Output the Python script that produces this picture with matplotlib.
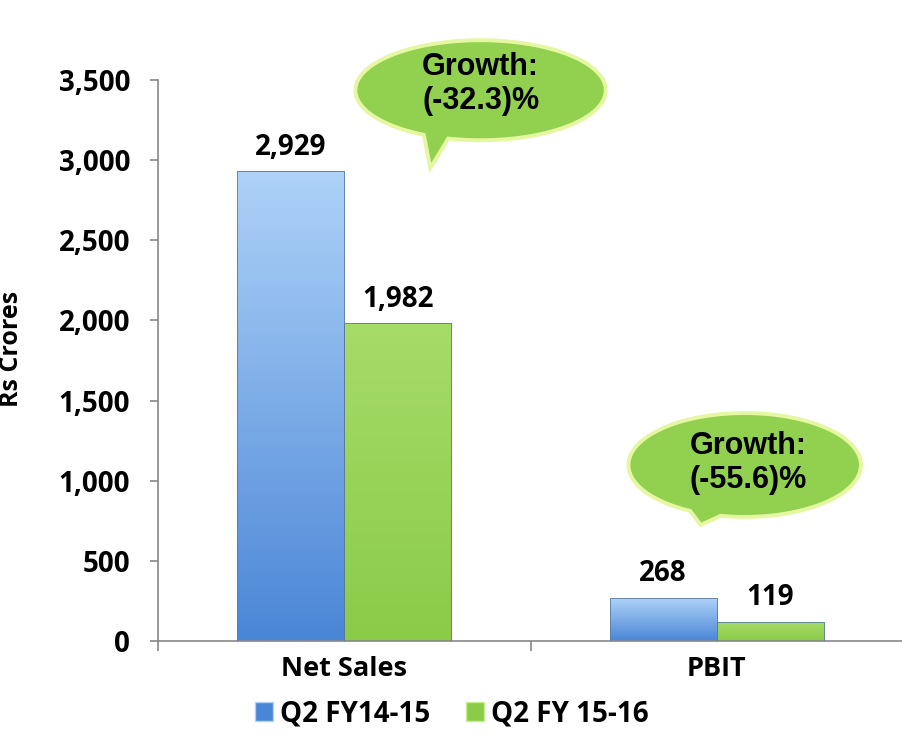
# Grafico de barras: Net Sales y PBIT, Q2 FY14-15 vs Q2 FY 15-16
import numpy as np
import matplotlib.pyplot as plt
from matplotlib.path import Path
from matplotlib.patches import PathPatch, Patch
from matplotlib.colors import LinearSegmentedColormap

# Datos
categorias = ["Net Sales", "PBIT"]
series = ["Q2 FY14-15", "Q2 FY 15-16"]
q2_fy1415 = [2929, 268]
q2_fy1516 = [1982, 119]
crecimiento = ["(-32.3)%", "(-55.6)%"]
marcas_y = [0, 500, 1000, 1500, 2000, 2500, 3000, 3500]

fuente = "Open Sans"
azul = ["#4a86d6", "#aed2f8"]    # abajo, arriba
verde = ["#8acb48", "#a6dc68"]

fig = plt.figure(figsize=(9.03, 7.33), dpi=100)
ax = fig.add_axes([0.175, 0.1255, 0.825, 0.7654])

ancho = 0.2876
x = np.arange(len(categorias))


def barras_degradado(pos, valores, colores):
    barras = ax.bar(pos, valores, ancho, facecolor="none",
                    edgecolor="#5a7a9a", linewidth=0.6, zorder=3)
    cmap = LinearSegmentedColormap.from_list("g", colores)
    grad = np.linspace(0, 1, 256).reshape(-1, 1)
    for r in barras:
        x0, y0 = r.get_x(), r.get_y()
        im = ax.imshow(grad, cmap=cmap, origin="lower", aspect="auto",
                       extent=[x0, x0 + r.get_width(), y0, y0 + r.get_height()],
                       zorder=2)
        im.set_clip_path(r)
    for r, v in zip(barras, valores):
        ax.annotate(f"{v:,}", (r.get_x() + r.get_width() / 2, v),
                    xytext=(0, 7), textcoords="offset points",
                    ha="center", va="bottom", fontsize=20,
                    fontweight="bold", family=fuente)
    return barras


barras_degradado(x - ancho / 2, q2_fy1415, azul)
barras_degradado(x + ancho / 2, q2_fy1516, verde)


def bocadillo(cx, cy, a, b, t1, t2, punta, texto, tx, ty):
    ang = np.radians(np.linspace(t2, t1 + 360, 300))
    xs = cx + a * np.cos(ang)
    ys = cy + b * np.sin(ang)
    verts = list(zip(xs, ys)) + [punta, (xs[0], ys[0])]
    codes = [Path.MOVETO] + [Path.LINETO] * (len(verts) - 2) + [Path.CLOSEPOLY]
    p = PathPatch(Path(verts, codes), facecolor="#92d050",
                  edgecolor="#e6f7a2", linewidth=2.8, zorder=5, clip_on=False)
    ax.add_patch(p)
    ax.text(tx, ty, "Growth:\n" + texto, ha="center", va="center",
            fontsize=22, fontweight="bold", family="Liberation Sans",
            linespacing=1.15, zorder=6, clip_on=False)


bocadillo(0.366, 3436, 0.336, 312, 243, 255, (0.231, 2950),
          crecimiento[0], 0.366, 3475)
bocadillo(1.075, 1098, 0.312, 324, 242, 258, (0.957, 724),
          crecimiento[1], 1.085, 1110)

# Ejes
ax.set_xlim(-0.5, 1.5)
ax.set_ylim(0, 3500)
ax.set_yticks(marcas_y)
ax.set_yticklabels([f"{v:,}" for v in marcas_y], fontsize=20,
                   fontweight="bold", family=fuente)
ax.set_xticks(x)
ax.set_xticklabels(categorias, fontsize=19.5, fontweight="bold", family=fuente)
ax.set_xticks([-0.5, 0.5, 1.5], minor=True)
ax.tick_params(axis="x", which="major", length=0, pad=11)
ax.tick_params(axis="x", which="minor", length=7, color="#888888", width=1.2)
ax.tick_params(axis="y", length=6, color="#888888", width=1.2, pad=14)
for lado in ["top", "right"]:
    ax.spines[lado].set_visible(False)
for lado in ["left", "bottom"]:
    ax.spines[lado].set_color("#888888")
    ax.spines[lado].set_linewidth(1.2)

ax.set_ylabel("Rs Crores", fontsize=18, fontweight="bold", family=fuente)
ax.yaxis.set_label_coords(-0.18, 0.52)

manijas = [Patch(facecolor=azul[0], edgecolor="#aed2f8"),
           Patch(facecolor=verde[0], edgecolor="#c8f090")]
fig.legend(manijas, series, loc="lower center", bbox_to_anchor=(0.5, -0.028),
           ncol=2, frameon=False, handlelength=0.65, handleheight=0.65,
           handletextpad=0.25, columnspacing=1.3,
           prop={"family": fuente, "weight": "bold", "size": 20})

fig.savefig("out.png", dpi=100)
